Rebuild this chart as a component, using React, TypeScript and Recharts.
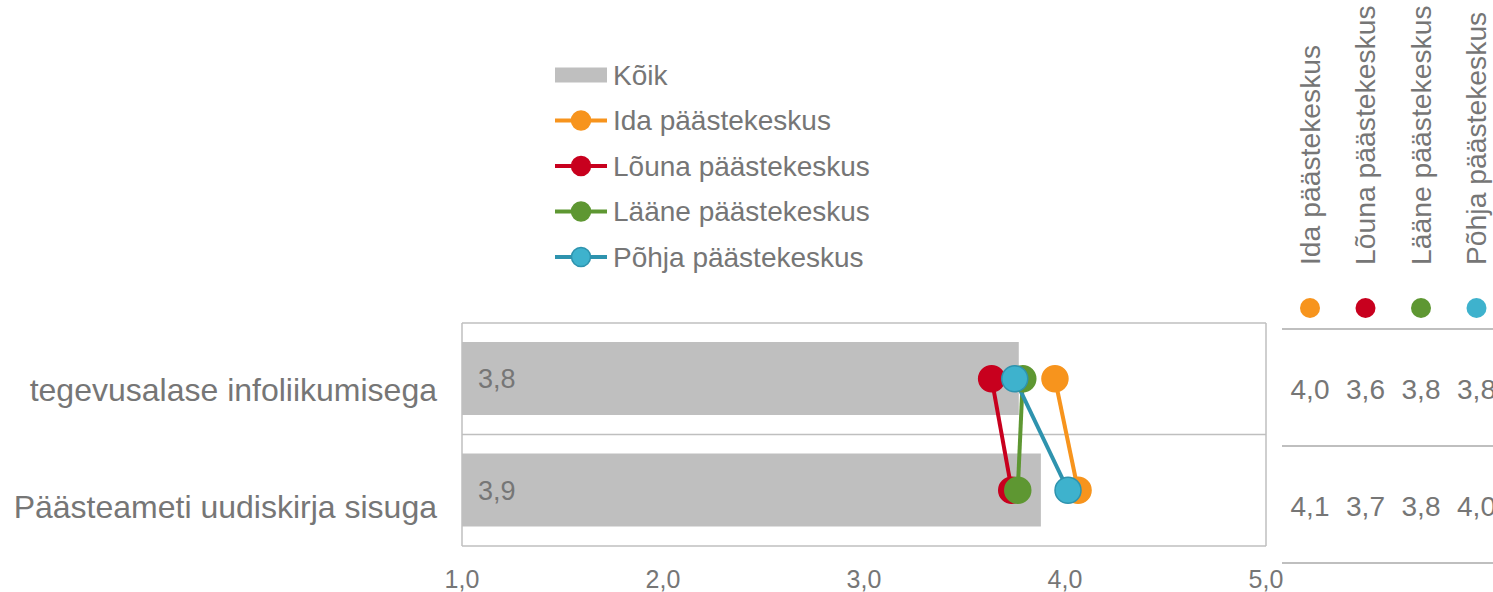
import React from "react";
import {
  ComposedChart,
  Bar,
  Line,
  XAxis,
  YAxis,
  CartesianGrid,
  LabelList,
} from "recharts";

const categories = ["tegevusalase infoliikumisega", "Päästeameti uudiskirja sisuga"];
const allValues = [3.77, 3.88];
const idaValues = [3.95, 4.065];
const lounaValues = [3.635, 3.735];
const laaneValues = [3.79, 3.765];
const pohjaValues = [3.75, 4.015];
const xTicks = [1, 2, 3, 4, 5];

const barName = "Kõik";
const seriesKeys = ["ida", "louna", "laane", "pohja"];
const seriesNames = ["Ida päästekeskus", "Lõuna päästekeskus", "Lääne päästekeskus", "Põhja päästekeskus"];
const seriesValues = [idaValues, lounaValues, laaneValues, pohjaValues];
const lineColors = ["#F7941D", "#C8001E", "#5E9732", "#2E93AE"];
const dotColors = ["#F7941D", "#C8001E", "#5E9732", "#3EB2CD"];
const dotStrokes = ["#F7941D", "#C8001E", "#5E9732", "#2E93AE"];

const FONT = "'Liberation Sans', Arial, sans-serif";
const GREY = "#767676";
const BAR = "#BFBFBF";

const data = categories.map((name, i) => {
  const row: Record<string, any> = { name, all: allValues[i] };
  seriesKeys.forEach((k, s) => {
    row[k] = seriesValues[s][i];
  });
  return row;
});

const fmt = (v: number) => (Math.round(v * 10) / 10).toFixed(1).replace(".", ",");

function Overlay() {
  const legendX = 555;
  const legendY0 = 75;
  const legendStep = 45.5;
  const colX0 = 1310;
  const colStep = 55.5;
  const tableLines = [329, 446, 563];
  return (
    <svg
      width={1493}
      height={592}
      style={{ position: "absolute", left: 0, top: 0, pointerEvents: "none" }}
      fontFamily={FONT}
    >
      {/* legend */}
      <rect x={legendX} y={legendY0 - 7.5} width={52} height={15} fill={BAR} />
      <text x={legendX + 58} y={legendY0} dy="0.35em" fontSize={28} fill={GREY}>
        {barName}
      </text>
      {seriesNames.map((n, i) => {
        const y = legendY0 + legendStep * (i + 1);
        return (
          <g key={n}>
            <line x1={legendX} x2={legendX + 52} y1={y} y2={y} stroke={lineColors[i]} strokeWidth={4} />
            <circle cx={legendX + 26} cy={y} r={9.5} fill={dotColors[i]} stroke={dotStrokes[i]} strokeWidth={1.5} />
            <text x={legendX + 58} y={y} dy="0.35em" fontSize={28} fill={GREY}>
              {n}
            </text>
          </g>
        );
      })}
      {/* table */}
      {seriesNames.map((n, i) => {
        const cx = colX0 + colStep * i;
        return (
          <g key={"t" + n}>
            <text
              x={cx}
              y={265}
              dy="0.35em"
              fontSize={28.3}
              fill={GREY}
              transform={`rotate(-90, ${cx}, 265)`}
            >
              {n}
            </text>
            <circle cx={cx} cy={308} r={10} fill={dotColors[i]} />
            {seriesValues[i].map((v, r) => (
              <text
                key={r}
                x={cx}
                y={(tableLines[r] + tableLines[r + 1]) / 2 + 2}
                dy="0.35em"
                textAnchor="middle"
                fontSize={28}
                fill={GREY}
              >
                {fmt(v)}
              </text>
            ))}
          </g>
        );
      })}
      {tableLines.map((y) => (
        <line key={y} x1={1282} x2={1493} y1={y} y2={y} stroke="#BFBFBF" strokeWidth={2} />
      ))}
    </svg>
  );
}

export default function App() {
  return (
    <div style={{ position: "absolute", left: 0, top: 0, width: 1493, height: 592, background: "#fff" }}>
      <ComposedChart
        width={1493}
        height={592}
        data={data}
        layout="vertical"
        margin={{ top: 323, right: 227, bottom: 6, left: 0 }}
      >
        <CartesianGrid
          stroke="#BFBFBF"
          strokeWidth={1.5}
          horizontalCoordinatesGenerator={({ offset }: any) => [
            offset.top,
            offset.top + offset.height / 2,
            offset.top + offset.height,
          ]}
          verticalCoordinatesGenerator={({ offset }: any) => [offset.left, offset.left + offset.width]}
        />
        <XAxis
          type="number"
          domain={[1, 5]}
          ticks={xTicks}
          interval={0}
          axisLine={false}
          tickLine={false}
          tickSize={0}
          tickMargin={24}
          height={40}
          tickFormatter={(v: number) => v.toFixed(1).replace(".", ",")}
          tick={{ fill: GREY, fontSize: 25, fontFamily: FONT }}
        />
        <YAxis type="category" dataKey="name" hide width={0} />
        <YAxis
          yAxisId="labels"
          type="category"
          dataKey="name"
          scale="point"
          padding={{ top: 67, bottom: 39 }}
          width={462}
          axisLine={false}
          tickLine={false}
          tickSize={0}
          tickMargin={25}
          interval={0}
          tick={{ fill: GREY, fontSize: 32, fontFamily: FONT }}
        />
        <Bar dataKey="all" name={barName} fill={BAR} barSize={73} isAnimationActive={false}>
          <LabelList
            dataKey="all"
            position="insideLeft"
            offset={16}
            formatter={(v: any) => fmt(Number(v))}
            fill={GREY}
            fontSize={27}
            fontFamily={FONT}
          />
        </Bar>
        {seriesKeys.map((k, i) => (
          <Line
            key={k}
            dataKey={k}
            name={seriesNames[i]}
            stroke={lineColors[i]}
            strokeWidth={4}
            dot={{ r: 13, fill: dotColors[i], stroke: dotStrokes[i], strokeWidth: 1.5 }}
            activeDot={false}
            isAnimationActive={false}
          />
        ))}
      </ComposedChart>
      <Overlay />
    </div>
  );
}
